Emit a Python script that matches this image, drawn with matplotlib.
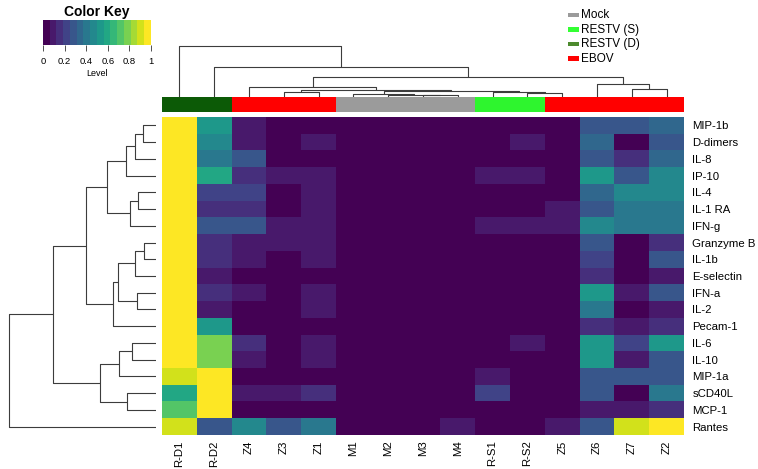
import numpy as np
import matplotlib
matplotlib.use("Agg")
import matplotlib.pyplot as plt
from matplotlib.colors import ListedColormap
from matplotlib.patches import Rectangle

plt.rcParams['font.family'] = ['Liberation Sans', 'DejaVu Sans']

# ---------------- data ----------------
col_labels = ["R-D1", "R-D2", "Z4", "Z3", "Z1", "M1", "M2", "M3", "M4",
              "R-S1", "R-S2", "Z5", "Z6", "Z7", "Z2"]
col_groups = ["RESTV (D)", "RESTV (D)", "EBOV", "EBOV", "EBOV", "Mock", "Mock", "Mock", "Mock",
              "RESTV (S)", "RESTV (S)", "EBOV", "EBOV", "EBOV", "EBOV"]
row_labels = ["MIP-1b", "D-dimers", "IL-8", "IP-10", "IL-4", "IL-1 RA", "IFN-g",
              "Granzyme B", "IL-1b", "E-selectin", "IFN-a", "IL-2", "Pecam-1",
              "IL-6", "IL-10", "MIP-1a", "sCD40L", "MCP-1", "Rantes"]

values = np.array([
    [1.00, 0.55, 0.10, 0.02, 0.02, 0, 0, 0, 0,    0,    0,    0,    0.27, 0.27, 0.33],
    [1.00, 0.48, 0.10, 0.02, 0.10, 0, 0, 0, 0,    0,    0.08, 0,    0.35, 0.06, 0.25],
    [1.00, 0.40, 0.30, 0.02, 0.02, 0, 0, 0, 0,    0,    0,    0,    0.25, 0.16, 0.32],
    [1.00, 0.58, 0.13, 0.08, 0.08, 0, 0, 0, 0,    0.08, 0.08, 0.02, 0.50, 0.25, 0.48],
    [1.00, 0.22, 0.22, 0.02, 0.08, 0, 0, 0, 0,    0,    0,    0,    0.35, 0.47, 0.47],
    [1.00, 0.15, 0.15, 0.02, 0.08, 0, 0, 0, 0,    0,    0,    0.08, 0.25, 0.40, 0.40],
    [1.00, 0.30, 0.30, 0.08, 0.08, 0, 0, 0, 0,    0.08, 0.08, 0.08, 0.47, 0.42, 0.42],
    [1.00, 0.18, 0.10, 0.08, 0.08, 0, 0, 0, 0,    0,    0,    0,    0.25, 0.05, 0.15],
    [1.00, 0.18, 0.10, 0.02, 0.08, 0, 0, 0, 0,    0,    0,    0,    0.20, 0.01, 0.27],
    [1.00, 0.08, 0.02, 0.02, 0.02, 0, 0, 0, 0,    0,    0,    0,    0.17, 0.02, 0.10],
    [1.00, 0.18, 0.10, 0.02, 0.10, 0, 0, 0, 0,    0,    0,    0,    0.50, 0.10, 0.28],
    [1.00, 0.08, 0.02, 0.02, 0.08, 0, 0, 0, 0,    0,    0,    0,    0.42, 0.01, 0.10],
    [1.00, 0.50, 0.02, 0.02, 0.02, 0, 0, 0, 0,    0,    0,    0,    0.15, 0.10, 0.18],
    [1.00, 0.80, 0.18, 0.02, 0.12, 0, 0, 0, 0,    0,    0.08, 0,    0.52, 0.20, 0.50],
    [1.00, 0.80, 0.10, 0.02, 0.10, 0, 0, 0, 0,    0,    0,    0,    0.52, 0.10, 0.25],
    [0.88, 1.00, 0.02, 0.02, 0.02, 0, 0, 0, 0,    0.10, 0,    0,    0.25, 0.25, 0.25],
    [0.62, 1.00, 0.10, 0.10, 0.18, 0, 0, 0, 0,    0.20, 0,    0,    0.25, 0.05, 0.38],
    [0.70, 1.00, 0.02, 0.02, 0.02, 0, 0, 0, 0,    0,    0,    0,    0.10, 0.10, 0.15],
    [0.88, 0.30, 0.45, 0.25, 0.40, 0, 0, 0, 0.08, 0,    0,    0.08, 0.30, 0.88, 1.00],
])

# dendrogram merges: (left id, right id, height); leaves are 0..n-1, merge k gets id n+k
col_merges = [(3, 4, 4.7), (7, 8, 1.5), (6, 16, 2.0), (5, 17, 3.0), (10, 11, 3.5),
              (9, 19, 4.5), (18, 20, 5.5), (15, 21, 7.0), (2, 22, 10.3), (13, 14, 7.7),
              (12, 24, 12.7), (23, 25, 19.7), (1, 26, 30.3), (0, 27, 51.0)]
row_merges = [(0, 1, 12.7), (19, 2, 21.0), (20, 3, 30.0), (4, 5, 17.7), (22, 6, 26.0),
              (21, 23, 49.3), (7, 8, 12.0), (25, 9, 21.0), (10, 11, 19.3), (26, 27, 37.7),
              (28, 12, 42.7), (24, 29, 70.3), (13, 14, 23.7), (31, 15, 36.7), (16, 17, 28.7),
              (32, 33, 56.0), (30, 34, 102.7), (35, 18, 147.0)]

group_names = ["Mock", "RESTV (S)", "RESTV (D)", "EBOV"]
group_bar_colors = {"Mock": "#9b9b9b", "RESTV (S)": "#2ef52e", "RESTV (D)": "#0c5a06", "EBOV": "#ff0000"}
legend_colors = ["#9b9b9b", "#33ff33", "#4c8a2e", "#ff0000"]

# ---------------- figure ----------------
W, H = 758, 469
fig = plt.figure(figsize=(W / 100, H / 100), dpi=100)


def ax_px(x0, y0, x1, y1):
    return fig.add_axes([x0 / W, 1 - y1 / H, (x1 - x0) / W, (y1 - y0) / H])


cmap = ListedColormap(plt.get_cmap('viridis')(np.linspace(0, 1, 16)))

HX0, HX1, HY0, HY1 = 162, 684, 117, 435

# heatmap
axh = ax_px(HX0, HY0, HX1, HY1)
axh.imshow(values, cmap=cmap, vmin=0, vmax=1, aspect='auto', interpolation='nearest')
axh.set_xticks(range(len(col_labels)))
axh.set_xticklabels(col_labels, rotation=90, fontsize=8.2)
axh.yaxis.tick_right()
axh.set_yticks(range(len(row_labels)))
axh.set_yticklabels(row_labels, fontsize=8.2)
axh.tick_params(axis='y', length=0, pad=6)
axh.tick_params(axis='x', length=0, pad=4)
for s in axh.spines.values():
    s.set_visible(False)

# column side colour bar
axc = ax_px(HX0, 97, HX1, 112)
for i, g in enumerate(col_groups):
    axc.add_patch(Rectangle((i, 0), 1, 1, color=group_bar_colors[g], lw=0))
axc.set_xlim(0, len(col_groups))
axc.set_ylim(0, 1)
axc.axis('off')


def draw_dendro(ax, merges, n, orient):
    pos = {i: float(i) for i in range(n)}
    hgt = {i: 0.0 for i in range(n)}
    for k, (a, b, h) in enumerate(merges):
        xs = [pos[a], pos[a], pos[b], pos[b]]
        ys = [hgt[a], h, h, hgt[b]]
        if orient == 'top':
            ax.plot(xs, ys, color='#3c3c3c', lw=0.8, solid_capstyle='butt')
        else:
            ax.plot(ys, xs, color='#3c3c3c', lw=0.8, solid_capstyle='butt')
        pos[n + k] = (pos[a] + pos[b]) / 2
        hgt[n + k] = h


# column dendrogram
axd = ax_px(HX0, 40, HX1, 97)
draw_dendro(axd, col_merges, len(col_labels), 'top')
axd.set_xlim(-0.5, len(col_labels) - 0.5)
axd.set_ylim(0, 57)
axd.axis('off')

# row dendrogram
axr = ax_px(0, HY0, 156, HY1)
draw_dendro(axr, row_merges, len(row_labels), 'left')
axr.set_xlim(156, 0)
axr.set_ylim(len(row_labels) - 0.5, -0.5)
axr.axis('off')

# colour key
axk = ax_px(43, 20, 151, 45)
axk.imshow(np.linspace(0, 1, 256)[None, :], cmap=cmap, vmin=0, vmax=1, aspect='auto',
           extent=[0, 1, 0, 1], interpolation='nearest')
axk.set_xlim(0, 1)
axk.set_ylim(0, 1)
axk.set_yticks([])
axk.set_xticks([0, 0.2, 0.4, 0.6, 0.8, 1])
axk.set_xticklabels(["0", "0.2", "0.4", "0.6", "0.8", "1"], fontsize=6.8)
axk.tick_params(axis='x', length=4, width=0.6, pad=5, color='#333333')
for s in axk.spines.values():
    s.set_visible(False)
axk.set_xlabel("Level", fontsize=6.5, labelpad=2)
axk.set_title("Color Key", fontsize=10, fontweight='bold', pad=3)

# legend
for j, (name, c) in enumerate(zip(group_names, legend_colors)):
    y = 15 + j * 14.5
    fig.patches.append(Rectangle((568 / W, 1 - (y + 2.2) / H), 10.5 / W, 4.4 / H,
                                 transform=fig.transFigure, color=c, lw=0))
    fig.text(581 / W, 1 - y / H, name, fontsize=8.5, va='center', ha='left')

fig.savefig("out.png", dpi=100)
